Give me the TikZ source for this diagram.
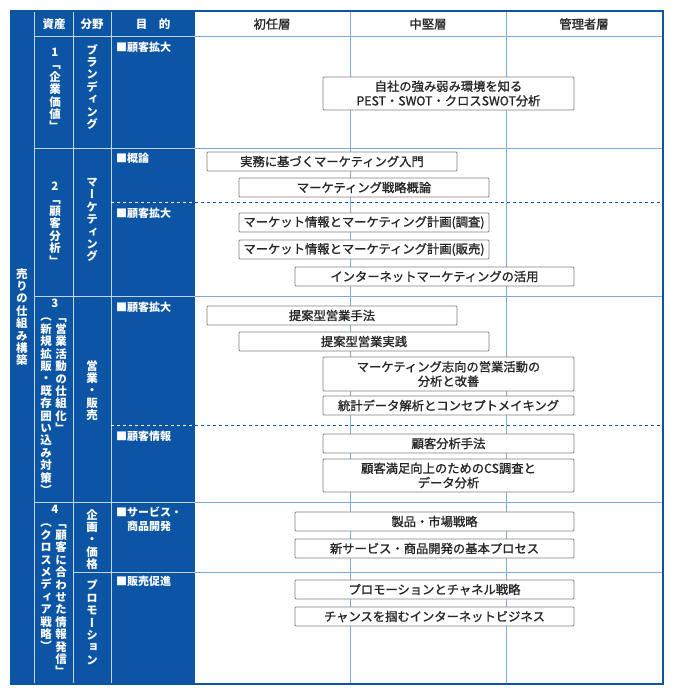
\documentclass[tikz,border=0pt]{standalone}
\usepackage{fontspec}
\setmainfont{Noto Sans CJK JP}
\newfontfamily\vjp[RawFeature=+vert]{Noto Sans CJK JP}
\newfontfamily\boxjp[FakeBold=1.2]{Noto Sans CJK JP}
\usetikzlibrary{positioning}
\definecolor{tblblue}{HTML}{0B55A4}
\definecolor{gridblue}{HTML}{7FA9D9}
\definecolor{boxgray}{HTML}{808080}

\begin{document}
\begin{tikzpicture}[x=1pt,y=-1pt]
        \tikzstyle{grid_line}=[gridblue,line width=1pt]
        \tikzstyle{inner_line}=[white!75!tblblue,line width=1pt]
        \tikzstyle{course}=[draw=boxgray,fill=white,rounded corners=1pt,line width=0.8pt,font=\boxjp\fontsize{12.3}{14.5}\selectfont,text=black!85,align=center,inner sep=1pt,minimum height=19pt]
        \tikzstyle{head}=[font=\fontsize{11.5}{14}\selectfont\bfseries,text=white]
        \tikzstyle{layer}=[font=\boxjp\fontsize{12.3}{14}\selectfont,text=black!85]
        \tikzstyle{vert}=[font=\vjp\fontsize{11.5}{12.4}\selectfont\bfseries,text=white,align=center,inner sep=0pt,anchor=north]
        \tikzstyle{goal}=[font=\fontsize{11}{14}\selectfont\bfseries,text=white,align=left,anchor=north west,inner sep=0pt]
        \useasboundingbox (0,0) rectangle (674,693);
        % table frame
        \fill[tblblue] (11,11) rectangle (195,684);
        \fill[white] (195,11) rectangle (663,684);
        \draw[grid_line] (195,37) -- (663,37);
        \foreach \yy in {148,296,502,572}
            \draw[grid_line] (195,\yy) -- (663,\yy);
        \foreach \xx in {350,506}
            \draw[grid_line] (\xx,11) -- (\xx,684);
        \draw[inner_line] (34,11) -- (34,684);
        \draw[inner_line] (73,11) -- (73,684);
        \draw[inner_line] (111,11) -- (111,684);
        \draw[inner_line] (34,37) -- (195,37);
        \foreach \yy in {148,296,502}
            \draw[inner_line] (34,\yy) -- (195,\yy);
        \draw[inner_line] (73,572) -- (195,572);
        \foreach \yy in {202,425} {
            \draw[white,dashed,line width=1pt] (111,\yy) -- (195,\yy);
            \draw[tblblue,dashed,line width=1pt] (195,\yy) -- (663,\yy);
        }
        \draw[tblblue,line width=1.5pt] (11,11) rectangle (663,684);
        % header
        \node[head] (h_asset) at (54,24) {資産};
        \node[head] (h_field) at (92,24) {分野};
        \node[head] (h_goal)  at (153,24) {目\quad 的};
        \node[layer] (h_new)  at (272,24) {初任層};
        \node[layer] (h_mid)  at (428,24) {中堅層};
        \node[layer] (h_mgr)  at (584,24) {管理者層};
        % left band
        \node[vert] (theme) at (22,268) {売\\り\\の\\仕\\組\\み\\構\\築};
        % assets
        \node[vert] (a1) at (55,48) {1\\「\\企\\業\\価\\値\\」};
        \node[vert] (a2) at (55,182) {2\\「\\顧\\客\\分\\析\\」};
        \node[vert] (a3n) at (55,299) {3};
        \node[vert] (a3a) at (61,318) {「\\営\\業\\活\\動\\の\\仕\\組\\化\\」};
        \node[vert] (a3b) at (46,318) {（\\新\\規\\拡\\販\\・\\既\\存\\囲\\い\\込\\み\\対\\策\\）};
        \node[vert] (a4n) at (55,505) {4};
        \node[vert] (a4a) at (61,524) {「\\顧\\客\\に\\合\\わ\\せ\\た\\情\\報\\発\\信\\」};
        \node[vert] (a4b) at (46,524) {（\\ク\\ロ\\ス\\メ\\デ\\ィ\\ア\\戦\\略\\）};
        % fields
        \node[vert] (f1) at (92,44) {ブ\\ラ\\ン\\デ\\ィ\\ン\\グ};
        \node[vert] (f2) at (92,178) {マ\\ー\\ケ\\テ\\ィ\\ン\\グ};
        \node[vert] (f3) at (92,360) {営\\業\\・\\販\\売};
        \node[vert] (f4) at (92,509) {企\\画\\・\\価\\格};
        \node[vert] (f5) at (92,580) {プ\\ロ\\モ\\ー\\シ\\ョ\\ン};
        % goals
        \node[goal] (g1) at (116,42) {■顧客拡大};
        \node[goal] (g2) at (116,153) {■概論};
        \node[goal] (g3) at (116,208) {■顧客拡大};
        \node[goal] (g4) at (116,302) {■顧客拡大};
        \node[goal] (g5) at (116,431) {■顧客情報};
        \node[goal] (g6) at (116,507) {■サービス・\\\hspace{11pt}商品開発};
        \node[goal] (g7) at (116,576) {■販売促進};
        % courses
        \node[course,minimum width=251pt,minimum height=33pt] (c_pest) at (448.5,93.5) {自社の強み弱み環境を知る\\PEST・SWOT・クロスSWOT分析};
        \node[course,minimum width=250pt] (c_intro)  at (332,161.5) {実務に基づくマーケティング入門};
        \node[course,minimum width=250pt] (c_strat)  at (364,187.5) {マーケティング戦略概論};
        \node[course,minimum width=250pt] (c_survey) at (364,222.5) {マーケット情報とマーケティング計画(調査)};
        \node[course,minimum width=250pt] (c_sales)  at (364,249.5) {マーケット情報とマーケティング計画(販売)};
        \node[course,minimum width=279pt] (c_net)    at (434.5,276.5) {インターネットマーケティングの活用};
        \node[course,minimum width=250pt] (c_prop)   at (332,315.5) {提案型営業手法};
        \node[course,minimum width=250pt] (c_prac)   at (364,341.5) {提案型営業実践};
        \node[course,minimum width=251pt,minimum height=34pt] (c_orient) at (448.5,374) {マーケティング志向の営業活動の\\分析と改善};
        \node[course,minimum width=251pt] (c_stat)   at (448.5,405.5) {統計データ解析とコンセプトメイキング};
        \node[course,minimum width=251pt] (c_cust)   at (448.5,443.5) {顧客分析手法};
        \node[course,minimum width=251pt,minimum height=33pt] (c_cs) at (448.5,475.5) {顧客満足向上のためのCS調査と\\データ分析};
        \node[course,minimum width=279pt] (c_prod)   at (434.5,521.5) {製品・市場戦略};
        \node[course,minimum width=279pt] (c_dev)    at (434.5,548.5) {新サービス・商品開発の基本プロセス};
        \node[course,minimum width=279pt] (c_promo)  at (434.5,589.5) {プロモーションとチャネル戦略};
        \node[course,minimum width=279pt] (c_chance) at (434.5,616.5) {チャンスを掴むインターネットビジネス};
\end{tikzpicture}
\end{document}
